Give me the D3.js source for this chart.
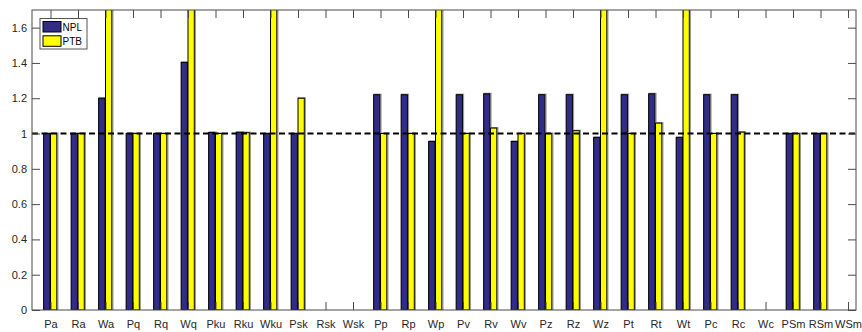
<!DOCTYPE html>
<html>
<head>
<meta charset="utf-8">
<script src="https://cdn.jsdelivr.net/npm/d3@7"></script>
<style>
  html, body { margin: 0; padding: 0; background: #fff; }
  svg { display: block; }
  text { font-family: "Liberation Sans", Arial, Helvetica, sans-serif; }
</style>
</head>
<body>
<svg id="chart" width="862" height="332"></svg>
<script>
const categories = ["Pa","Ra","Wa","Pq","Rq","Wq","Pku","Rku","Wku","Psk","Rsk","Wsk",
  "Pp","Rp","Wp","Pv","Rv","Wv","Pz","Rz","Wz","Pt","Rt","Wt","Pc","Rc","Wc","PSm","RSm","WSm"];
const npl = [1, 1, 1.2, 1, 1, 1.403, 1.006, 1.007, 1, 1, null, null,
  1.22, 1.22, 0.955, 1.22, 1.225, 0.955, 1.22, 1.22, 0.978, 1.22, 1.225, 0.978, 1.22, 1.22, null, 1, 1, null];
const ptb = [1, 1, 2.0, 1, 1, 2.0, 1, 1.005, 2.0, 1.2, null, null,
  1, 1, 2.0, 1, 1.031, 1, 1, 1.016, 2.0, 1, 1.059, 2.0, 1, 1.008, null, 1, 1, null];
const seriesNames = ["NPL", "PTB"];
const seriesColors = ["#312c85", "#ffff00"];
const yTicks = [0, 0.2, 0.4, 0.6, 0.8, 1, 1.2, 1.4, 1.6];
const refValue = 1;

const svg = d3.select("#chart");
const L = 32, R = 856, T = 10, B = 310;

const x = d3.scaleLinear().domain([0.327, 30.29]).range([L, R]);
const y = d3.scaleLinear().domain([0, 1.7]).range([B, T]);
const barW = x(1.25) - x(1);

svg.append("defs").append("clipPath").attr("id", "plotclip")
  .append("rect").attr("x", L).attr("y", T).attr("width", R - L).attr("height", B - T);

const g = svg.append("g").attr("clip-path", "url(#plotclip)");

const series = [npl, ptb];
series.forEach((vals, si) => {
  const data = vals.map((v, i) => ({ v, i })).filter(d => d.v !== null);
  const offset = si === 0 ? -barW : 0;
  // soft gray shadow
  g.selectAll(null).data(data).enter().append("rect")
    .attr("x", d => x(d.i + 1) + offset + 0.5)
    .attr("y", d => y(d.v) - 0.5)
    .attr("width", barW)
    .attr("height", d => y(0) - y(d.v) + 0.5)
    .attr("fill", "none")
    .attr("stroke", "#9a9a9a")
    .attr("stroke-width", 1.2);
  g.selectAll(null).data(data).enter().append("rect")
    .attr("x", d => x(d.i + 1) + offset)
    .attr("y", d => y(d.v))
    .attr("width", barW - 0.6)
    .attr("height", d => y(0) - y(d.v))
    .attr("fill", seriesColors[si])
    .attr("stroke", "#000")
    .attr("stroke-width", 1);
});

// reference dashed line
g.append("line")
  .attr("x1", L).attr("x2", R)
  .attr("y1", y(refValue)).attr("y2", y(refValue))
  .attr("stroke", "#000").attr("stroke-width", 2)
  .attr("stroke-dasharray", "6,3.5");

const axisColor = "#4a4a4a";
const textColor = "#262626";

// Bottom axis
const xAxis = d3.axisBottom(x)
  .tickValues(d3.range(1, categories.length + 1))
  .tickFormat(d => categories[d - 1])
  .tickSizeInner(-8).tickSizeOuter(0).tickPadding(12);
const gx = svg.append("g").attr("transform", `translate(0,${B})`).call(xAxis);
// Top axis
const gxt = svg.append("g").attr("transform", `translate(0,${T})`)
  .call(d3.axisTop(x).tickValues(d3.range(1, categories.length + 1)).tickFormat("")
    .tickSizeInner(-8).tickSizeOuter(0));
// Left axis
const gy = svg.append("g").attr("transform", `translate(${L},0)`)
  .call(d3.axisLeft(y).tickValues(yTicks).tickFormat(d => d3.format("")(d))
    .tickSizeInner(-8).tickSizeOuter(0).tickPadding(5));
// Right axis
const gyr = svg.append("g").attr("transform", `translate(${R},0)`)
  .call(d3.axisRight(y).tickValues(yTicks).tickFormat("")
    .tickSizeInner(-8).tickSizeOuter(0));

[gx, gxt, gy, gyr].forEach(a => {
  a.select(".domain").remove();
  a.selectAll(".tick line").attr("stroke", axisColor).attr("stroke-width", 1);
  a.selectAll(".tick text").attr("fill", textColor).style("font-size", "11px")
    .style("font-family", "'Liberation Sans', Arial, sans-serif");
});
gx.selectAll(".tick text").attr("dy", "0.5em");

// Frame
svg.append("rect").attr("x", L).attr("y", T).attr("width", R - L).attr("height", B - T)
  .attr("fill", "none").attr("stroke", axisColor).attr("stroke-width", 1);

// Legend
const lg = svg.append("g").attr("transform", "translate(40,18.5)");
lg.append("rect").attr("x", 0).attr("y", 0).attr("width", 47).attr("height", 30.5)
  .attr("fill", "#fff").attr("stroke", "#555").attr("stroke-width", 1);
seriesNames.forEach((name, i) => {
  lg.append("rect").attr("x", 3).attr("y", 3 + i * 14.3).attr("width", 18).attr("height", 10.5)
    .attr("fill", seriesColors[i]).attr("stroke", "#000").attr("stroke-width", 1);
  lg.append("text").attr("x", 22.5).attr("y", 12.3 + i * 14.3)
    .attr("fill", "#000").style("font-size", "10px").text(name);
});
</script>
</body>
</html>
